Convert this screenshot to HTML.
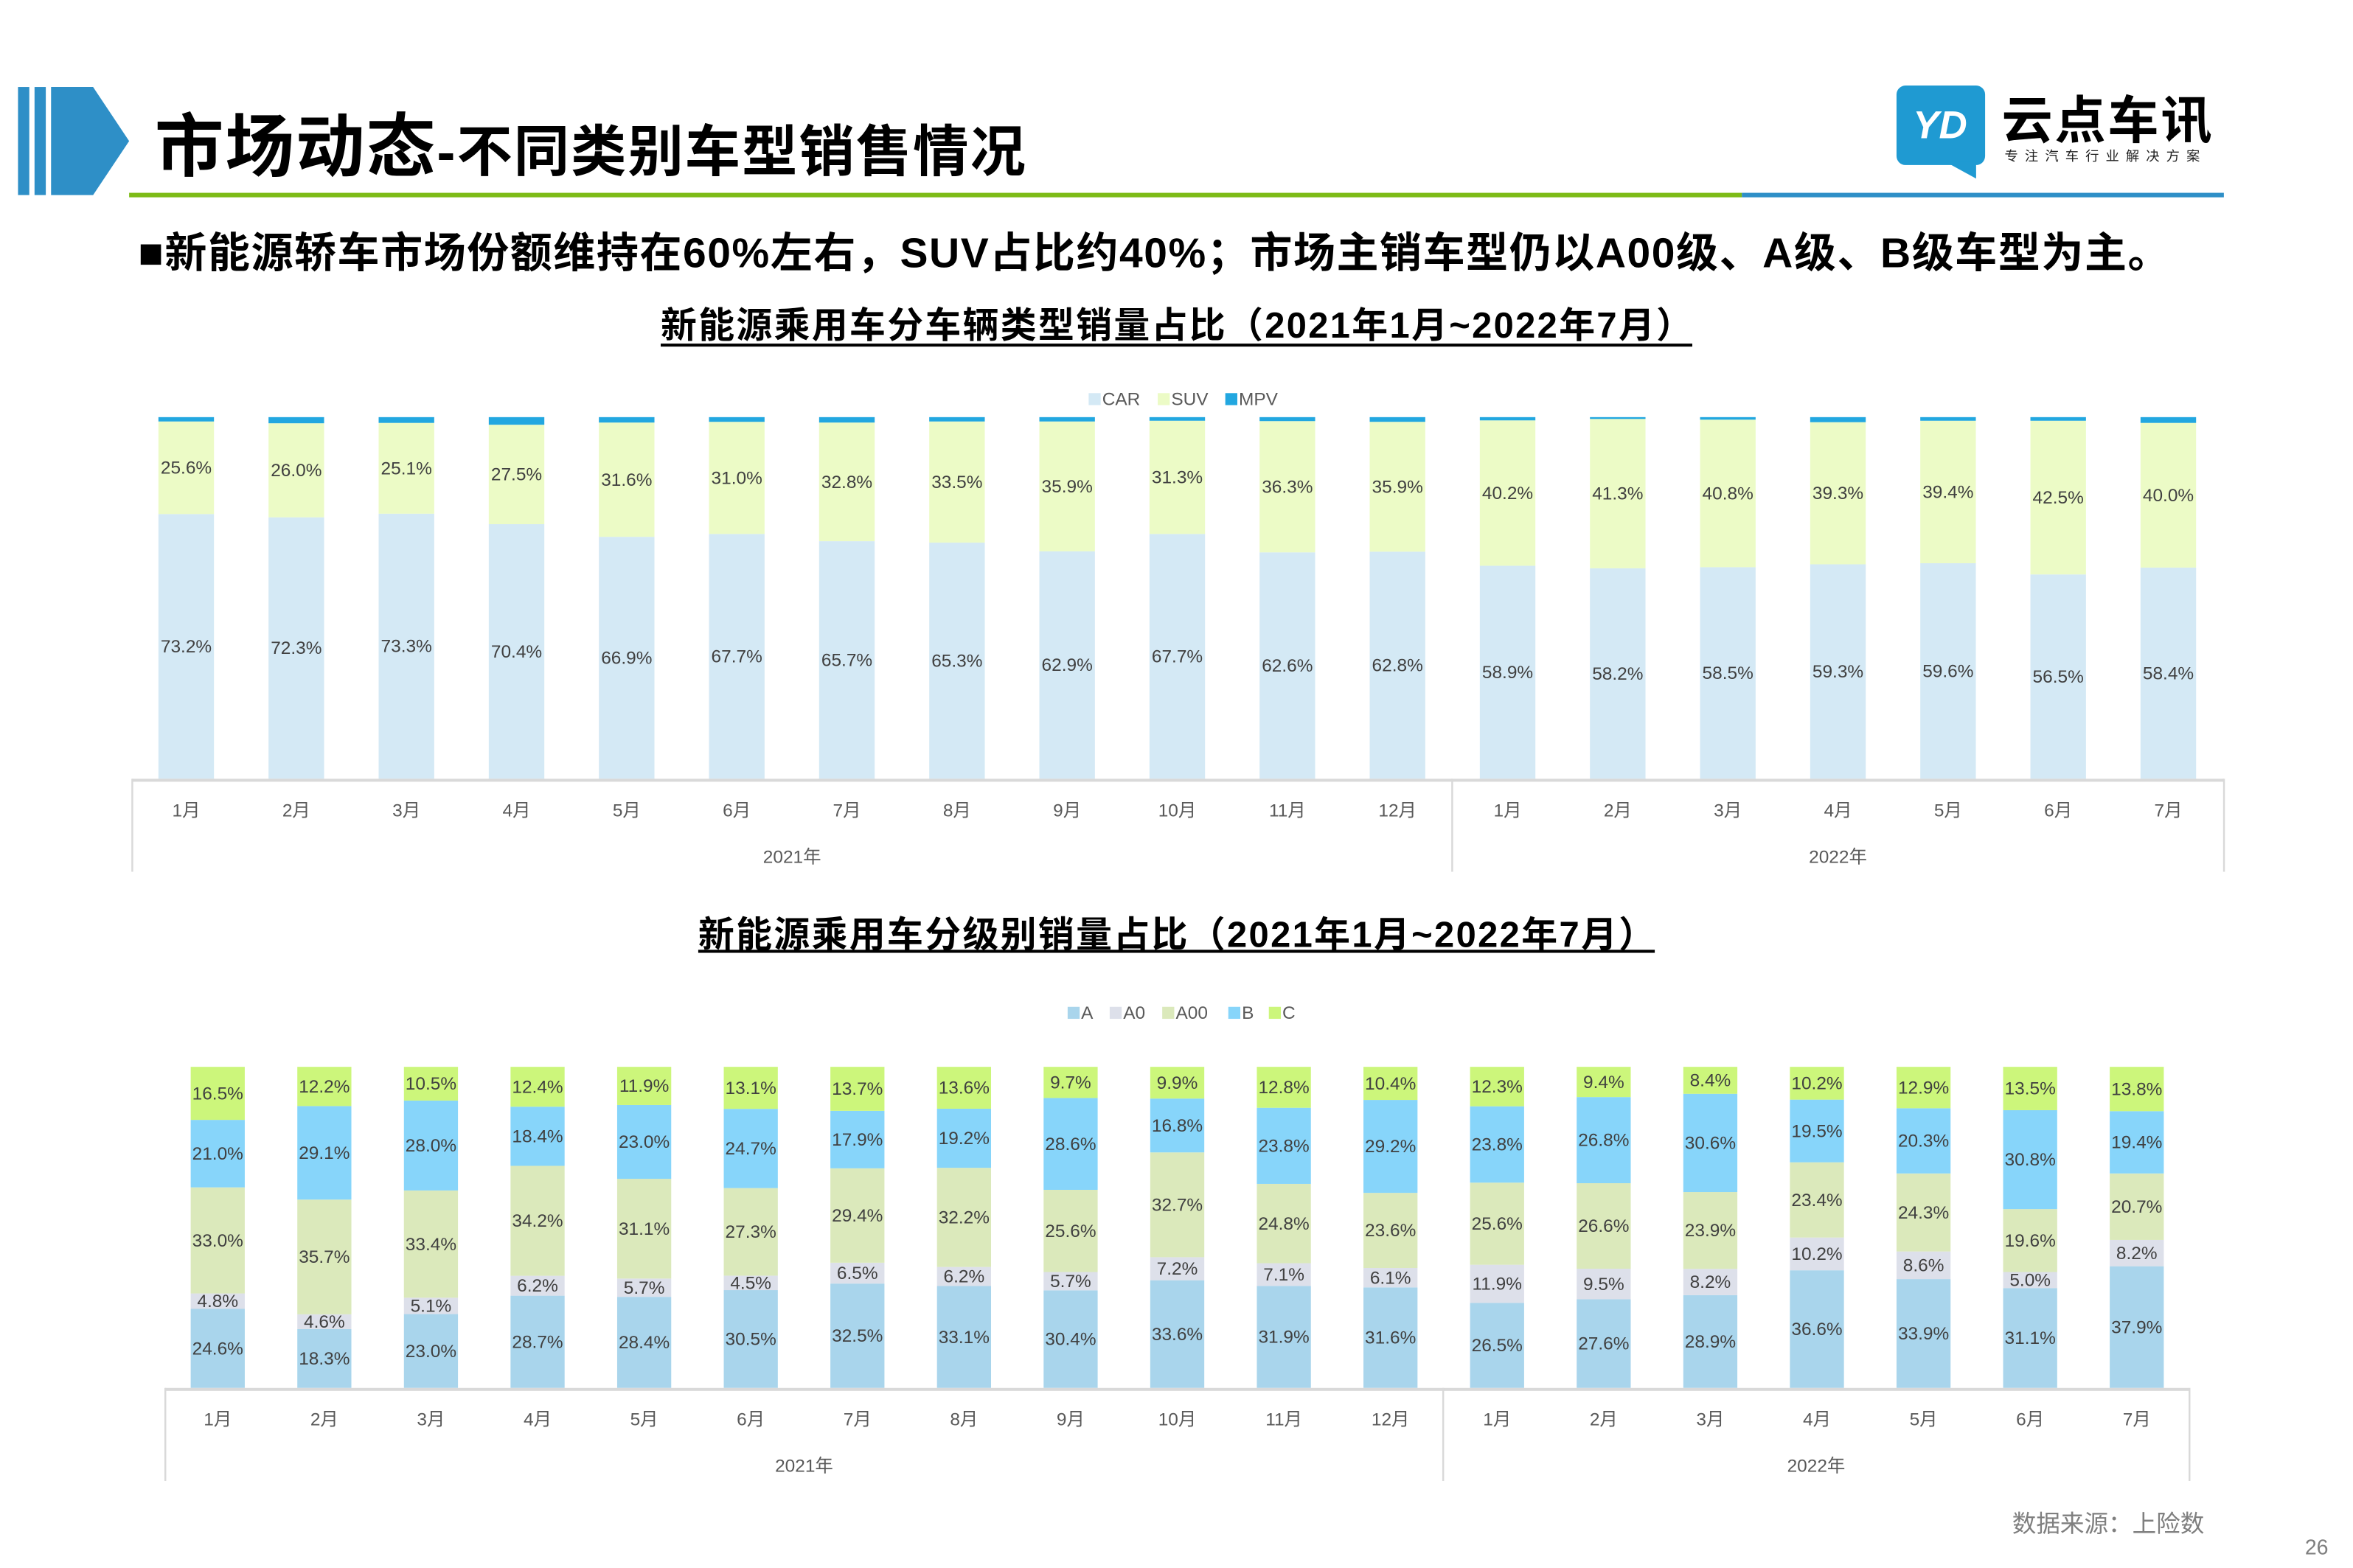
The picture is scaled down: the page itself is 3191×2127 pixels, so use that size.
<!DOCTYPE html>
<html><head><meta charset="utf-8"><style>
html,body{margin:0;padding:0;background:#fff;}
svg{display:block;font-family:"Liberation Sans","Noto Sans CJK SC",sans-serif;}
</style></head><body>
<svg id="s" width="3191" height="2127" viewBox="0 0 1567 1045" preserveAspectRatio="none" xmlns="http://www.w3.org/2000/svg">
<g>
<rect x="12" y="58" width="7.5" height="72" fill="#2e8fc7"/>
<rect x="23" y="58" width="7.5" height="72" fill="#2e8fc7"/>
<polygon points="34,58 62,58 86,94 62,130 34,130" fill="#2e8fc7"/>
<text x="103" y="114" font-size="46" font-weight="bold" fill="#000" textLength="580">市场动态<tspan font-size="37">-不同类别车型销售情况</tspan></text>
<rect x="86" y="128.5" width="1074" height="3" fill="#7dbb17"/>
<rect x="1160" y="128.5" width="321" height="3" fill="#2e8fc7"/>
</g>
<g>
<rect x="1263" y="57" width="59" height="53" rx="6" fill="#1f9ad2"/>
<polygon points="1296,108 1316,108 1316,119" fill="#1f9ad2"/>
<text x="1292" y="92" font-size="26" font-weight="bold" font-style="italic" fill="#fff" text-anchor="middle">YD</text>
<text x="1333" y="92" font-size="34" font-weight="bold" fill="#000" textLength="140">云点车讯</text>
<text x="1335" y="107" font-size="9" fill="#222" textLength="130">专注汽车行业解决方案</text>
</g>
<text x="92" y="178" font-size="28" font-weight="bold" fill="#000" textLength="1353">■新能源轿车市场份额维持在60%左右，SUV占比约40%；市场主销车型仍以A00级、A级、B级车型为主。</text>
<text x="440" y="225" font-size="24" font-weight="bold" fill="#000" textLength="687">新能源乘用车分车辆类型销量占比（2021年1月~2022年7月）</text>
<rect x="440" y="229" width="687" height="2" fill="#000"/>
<text x="465" y="631" font-size="24" font-weight="bold" fill="#000" textLength="637">新能源乘用车分级别销量占比（2021年1月~2022年7月）</text>
<rect x="465" y="633" width="637" height="2" fill="#000"/>
<g id="c1"></g>
<g id="c2"></g>
<text x="1340" y="1021" font-size="16" fill="#7f7f7f">数据来源：上险数</text>
<text x="1535" y="1036" font-size="14" fill="#7f7f7f">26</text>
</svg>
<script>
const months = ["1月","2月","3月","4月","5月","6月","7月","8月","9月","10月","11月","12月","1月","2月","3月","4月","5月","6月","7月"];
const years = ["2021年","2022年"];
const carShare = [73.2,72.3,73.3,70.4,66.9,67.7,65.7,65.3,62.9,67.7,62.6,62.8,58.9,58.2,58.5,59.3,59.6,56.5,58.4];
const suvShare = [25.6,26.0,25.1,27.5,31.6,31.0,32.8,33.5,35.9,31.3,36.3,35.9,40.2,41.3,40.8,39.3,39.4,42.5,40.0];
const mpvShare = [1.2,1.7,1.6,2.1,1.5,1.3,1.5,1.2,1.2,1.0,1.1,1.3,0.9,0.5,0.7,1.4,1.0,1.0,1.6];
const classA = [24.6,18.3,23.0,28.7,28.4,30.5,32.5,33.1,30.4,33.6,31.9,31.6,26.5,27.6,28.9,36.6,33.9,31.1,37.9];
const classA0 = [4.8,4.6,5.1,6.2,5.7,4.5,6.5,6.2,5.7,7.2,7.1,6.1,11.9,9.5,8.2,10.2,8.6,5.0,8.2];
const classA00 = [33.0,35.7,33.4,34.2,31.1,27.3,29.4,32.2,25.6,32.7,24.8,23.6,25.6,26.6,23.9,23.4,24.3,19.6,20.7];
const classB = [21.0,29.1,28.0,18.4,23.0,24.7,17.9,19.2,28.6,16.8,23.8,29.2,23.8,26.8,30.6,19.5,20.3,30.8,19.4];
const classC = [16.5,12.2,10.5,12.4,11.9,13.1,13.7,13.6,9.7,9.9,12.8,10.4,12.3,9.4,8.4,10.2,12.9,13.5,13.8];

const NS="http://www.w3.org/2000/svg";
function mk(parent,tag,attrs,txt){const e=document.createElementNS(NS,tag);for(const k in attrs)e.setAttribute(k,attrs[k]);if(txt!==undefined)e.textContent=txt;parent.appendChild(e);return e;}

function drawChart(g,cfg){
  const n=months.length;
  const xc=i=>cfg.x0+i*(cfg.x1-cfg.x0)/(n-1);
  for(let i=0;i<n;i++){
    const total=cfg.series.reduce((a,s)=>a+s.data[i],0);
    const yv=v=>v/total*(cfg.base-cfg.top);
    let y=cfg.base;
    cfg.series.forEach(s=>{
      const v=s.data[i];const h=yv(v);y-=h;
      const r=mk(g,'rect',{x:xc(i)-cfg.bw/2,y:y,width:cfg.bw,height:h,fill:s.color});
      
      
      if(s.label){
        const t=mk(g,'text',{x:xc(i),y:y+h/2+4,'font-size':12,fill:'#404040','text-anchor':'middle'},v.toFixed(1)+'%');
        
        
      }
    });
    const m=mk(g,'text',{x:xc(i),y:cfg.base+25,'font-size':12,fill:'#595959','text-anchor':'middle'},months[i]);
    
    
  }
  const ax=mk(g,'rect',{x:cfg.ax0,y:cfg.base,width:cfg.ax2-cfg.ax0,height:2,fill:'#d9d9d9'});
  
  
  [cfg.ax0,cfg.ax1,cfg.ax2].forEach(x=>mk(g,'rect',{x:x-0.5,y:cfg.base,width:1.2,height:cfg.bot-cfg.base,fill:'#d9d9d9'}));
  const y1=mk(g,'text',{x:(cfg.ax0+cfg.ax1)/2,y:cfg.bot-6,'font-size':12,fill:'#595959','text-anchor':'middle'},years[0]);
  
  
  const y2=mk(g,'text',{x:(cfg.ax1+cfg.ax2)/2,y:cfg.bot-6,'font-size':12,fill:'#595959','text-anchor':'middle'},years[1]);
  
  
  cfg.legend.forEach(l=>{
    const lg=mk(g,'g',{});
    
    
    mk(lg,'rect',{x:l[0],y:cfg.ly-4,width:8,height:8,fill:l[2]});
    mk(lg,'text',{x:l[0]+9,y:cfg.ly+4,'font-size':12,fill:'#595959'},l[1]);
  });
}
drawChart(document.getElementById('c1'),{x0:124,x1:1444,bw:37,top:278,base:519,bot:581,ax0:88,ax1:967,ax2:1481,ly:266,
  series:[{name:'car',data:carShare,color:'#d4e9f5',label:true},{name:'suv',data:suvShare,color:'#ecfbc6',label:true},{name:'mpv',data:mpvShare,color:'#22a7e0',label:false}],
  legend:[[725,'CAR','#d4e9f5'],[771,'SUV','#ecfbc6'],[816,'MPV','#22a7e0']]});
drawChart(document.getElementById('c2'),{x0:145,x1:1423,bw:36,top:711,base:925,bot:987,ax0:110,ax1:961,ax2:1458,ly:675,
  series:[{name:'a',data:classA,color:'#a9d5ec',label:true},{name:'a0',data:classA0,color:'#dde0ea',label:true},{name:'a00',data:classA00,color:'#dbe9bb',label:true},{name:'b',data:classB,color:'#87d5fa',label:true},{name:'c',data:classC,color:'#ccf67b',label:true}],
  legend:[[711,'A','#a9d5ec'],[739,'A0','#dde0ea'],[774,'A00','#dbe9bb'],[818,'B','#87d5fa'],[845,'C','#ccf67b']]});
</script>
</body></html>
